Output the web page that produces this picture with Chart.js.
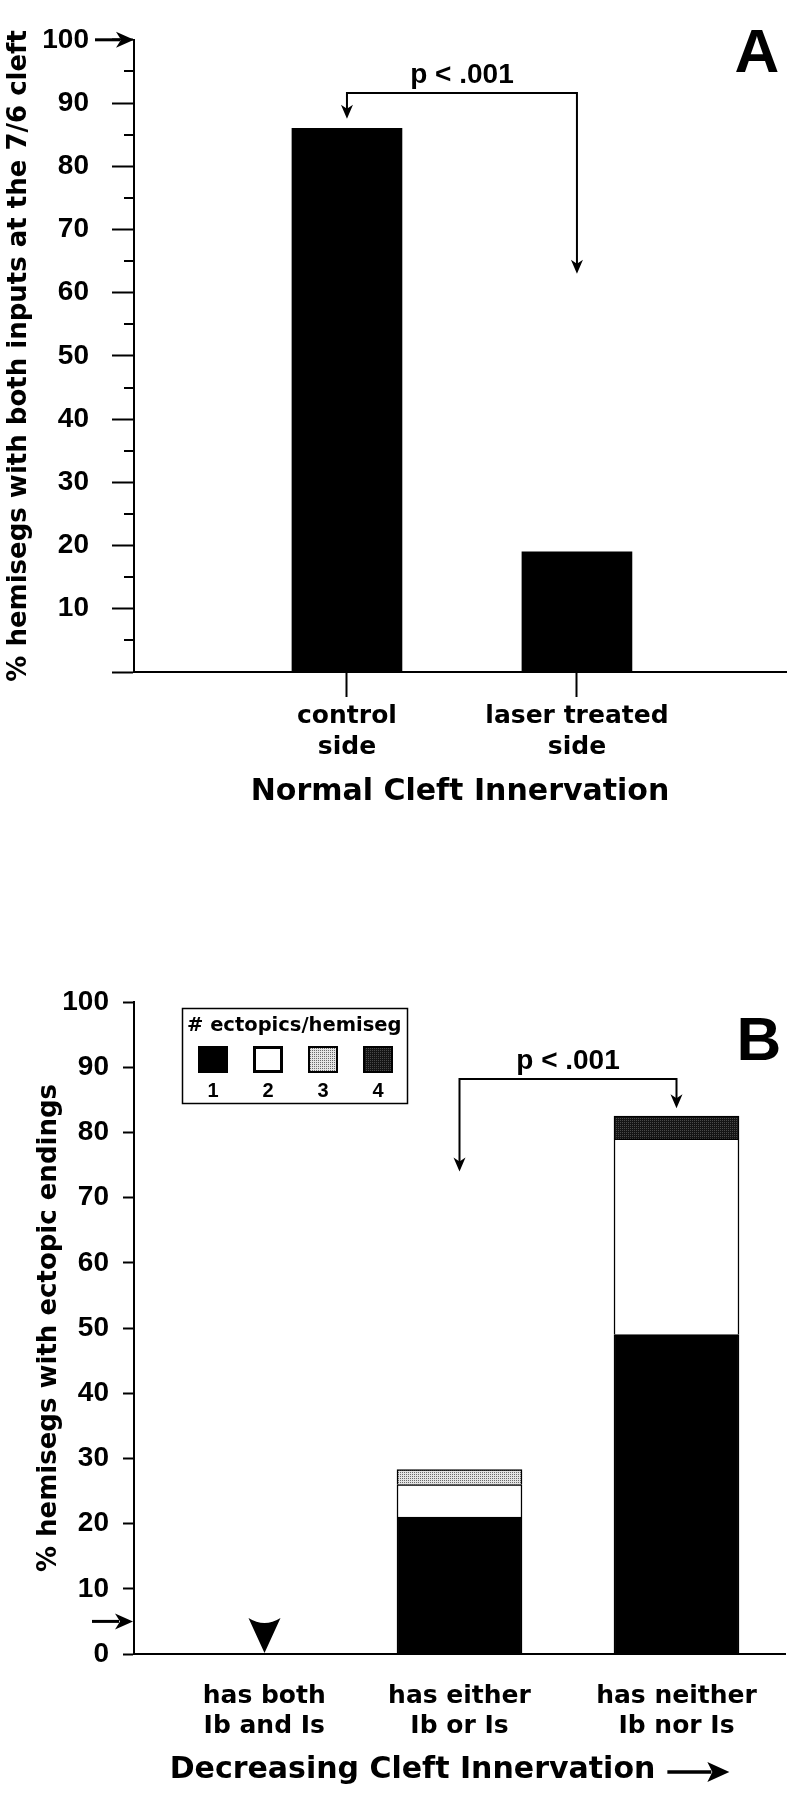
<!DOCTYPE html>
<html><head><meta charset="utf-8">
<script src="https://cdn.jsdelivr.net/npm/chart.js@4.4.0/dist/chart.umd.min.js"></script>
<style>
html,body{margin:0;padding:0;background:#fff;}
#wrap{position:relative;width:794px;height:1800px;background:#fff;}
canvas{position:absolute;left:0;}
#cA{top:0;} #cB{top:880px;}
</style></head><body>
<div id="wrap"><canvas id="cA" width="794" height="830"></canvas><canvas id="cB" width="794" height="920"></canvas></div>
<script>
// ---------- DATA ----------
const categoriesA = [["control", "side"], ["laser treated", "side"]];
const valuesA = [86, 19];
const titleA_y = "% hemisegs with both inputs at the 7/6 cleft";
const titleA_x = "Normal Cleft Innervation";

const categoriesB = [["has both", "Ib and Is"], ["has either", "Ib or Is"], ["has neither", "Ib nor Is"]];
const ectopicCounts = ["1", "2", "3", "4"];
const ectopics1 = [0, 21, 49];
const ectopics2 = [0, 5, 30];
const ectopics3 = [0, 2.3, 0];
const ectopics4 = [0, 0, 3.5];
const legendTitleB = "# ectopics/hemiseg";
const titleB_y = "% hemisegs with ectopic endings";
const titleB_x = "Decreasing Cleft Innervation";
const pText = "p < .001";

// ---------- STYLE HELPERS ----------
const TXT = "'DejaVu Sans', sans-serif";
const NUM = "'Liberation Sans', Arial, sans-serif";
Chart.defaults.color = '#000';

function stipple(bg, dot) {
  const c = document.createElement('canvas'); c.width = 4; c.height = 4;
  const g = c.getContext('2d');
  g.fillStyle = bg; g.fillRect(0, 0, 4, 4);
  g.fillStyle = dot;
  g.fillRect(0, 0, 1, 1); g.fillRect(2, 2, 1, 1); g.fillRect(2, 0, 1, 1); g.fillRect(0, 2, 1, 1);
  return c.getContext('2d').createPattern(c, 'repeat');
}
const fillsB = ['#000000', '#ffffff', stipple('#e4e4e4', '#6a6a6a'), stipple('#151515', '#4a4a4a')];

function arrowRight(ctx, x1, x2, y, lw, hl, hw) {
  lw = lw || 3; hl = hl || 18; hw = hw || 8;
  ctx.save(); ctx.strokeStyle = '#000'; ctx.fillStyle = '#000'; ctx.lineWidth = lw;
  ctx.beginPath(); ctx.moveTo(x1, y); ctx.lineTo(x2 - hl + 4, y); ctx.stroke();
  ctx.beginPath(); ctx.moveTo(x2, y); ctx.lineTo(x2 - hl, y - hw); ctx.lineTo(x2 - hl + 5, y); ctx.lineTo(x2 - hl, y + hw); ctx.closePath(); ctx.fill();
  ctx.restore();
}
function arrowHeadDown(ctx, x, tip) {
  ctx.beginPath(); ctx.moveTo(x, tip); ctx.lineTo(x - 6, tip - 14); ctx.lineTo(x, tip - 10); ctx.lineTo(x + 6, tip - 14); ctx.closePath(); ctx.fill();
}
function bracket(chart, cfg) {
  const {ctx} = chart; const xs = chart.scales.x, ys = chart.scales.y;
  const xa = xs.getPixelForValue(cfg.from), xb = xs.getPixelForValue(cfg.to);
  const yl = ys.getPixelForValue(cfg.level);
  const ta = ys.getPixelForValue(cfg.tips[0]), tb = ys.getPixelForValue(cfg.tips[1]);
  ctx.save(); ctx.strokeStyle = '#000'; ctx.fillStyle = '#000'; ctx.lineWidth = 2;
  ctx.beginPath(); ctx.moveTo(xa, ta - 8); ctx.lineTo(xa, yl); ctx.lineTo(xb, yl); ctx.lineTo(xb, tb - 8); ctx.stroke();
  arrowHeadDown(ctx, xa, ta); arrowHeadDown(ctx, xb, tb);
  ctx.font = "bold 28px " + NUM; ctx.textAlign = 'center'; ctx.textBaseline = 'alphabetic';
  ctx.fillText(pText, (xa + xb) / 2, yl - 10);
  ctx.restore();
}

// ---------- CHART A ----------
const annotA = {
  id: 'annotA',
  afterDraw(chart) {
    const {ctx} = chart; const ys = chart.scales.y; const left = chart.chartArea.left;
    ctx.save(); ctx.strokeStyle = '#000'; ctx.lineWidth = 2;
    for (let v = 5; v < 100; v += 10) {
      const y = Math.round(ys.getPixelForValue(v));
      ctx.beginPath(); ctx.moveTo(left - 10, y); ctx.lineTo(left, y); ctx.stroke();
    }
    ctx.restore();
    arrowRight(ctx, 95, left, ys.getPixelForValue(100));
    bracket(chart, {from: 0, to: 1, level: 91.6, tips: [87.5, 63]});
    ctx.save(); ctx.fillStyle = '#000'; ctx.font = "bold 62px " + NUM; ctx.textAlign = 'center';
    ctx.fillText('A', 757, 72); ctx.restore();
  }
};

new Chart(document.getElementById('cA'), {
  type: 'bar',
  data: {
    datasets: [{
      label: titleA_y,
      data: valuesA.map((v, i) => ({x: i, y: v})),
      backgroundColor: '#000', borderWidth: 0, barThickness: 110
    }]
  },
  options: {
    responsive: false, animation: false, devicePixelRatio: 1,
    layout: {padding: {top: 17, right: 8, left: 0, bottom: 0}},
    plugins: {legend: {display: false}, tooltip: {enabled: false}},
    scales: {
      x: {
        type: 'linear', min: -0.926, max: 1.909, bounds: 'data', offset: false,
        afterBuildTicks: (s) => { s.ticks = categoriesA.map((c, i) => ({value: i})); },
        ticks: {callback: (v) => categoriesA[v], autoSkip: false, maxRotation: 0,
          font: {family: TXT, weight: 'bold', size: 25, lineHeight: 1.24}, color: '#000', padding: 4},
        grid: {offset: false, drawOnChartArea: false, drawTicks: true, tickLength: 25, tickColor: '#000', tickWidth: 2},
        border: {display: true, color: '#000', width: 2},
        title: {display: true, text: titleA_x, color: '#000',
          font: {family: TXT, weight: 'bold', size: 30, lineHeight: 1.2}, padding: {top: 0, bottom: 20}},
        afterFit: (s) => { s.height = 158; }
      },
      y: {
        min: 0, max: 100,
        ticks: {stepSize: 10, callback: (v) => v === 0 ? '' : v,
          font: {family: NUM, weight: 'bold', size: 28}, color: '#000', padding: 23},
        grid: {drawOnChartArea: false, tickLength: 22, tickColor: '#000', tickWidth: 2},
        border: {display: true, color: '#000', width: 2},
        title: {display: true, text: titleA_y, color: '#000',
          font: {family: TXT, weight: 'bold', size: 26, lineHeight: 1.2}, padding: {top: 4, bottom: 0}},
        afterFit: (s) => { s.width = 134; }
      }
    }
  },
  plugins: [annotA]
});

// ---------- CHART B ----------
const NB = '\u00A0';
const ARROW_ROOM = NB.repeat(9);
const EMPTY_PAD = NB.repeat(5);   // the empty category's label sits a little right of centre
const EMPTY_SHIFT = 22;
const annotB = {
  id: 'annotB',
  afterDraw(chart) {
    const {ctx} = chart; const xs = chart.scales.x, ys = chart.scales.y; const left = chart.chartArea.left;
    // y-axis arrow
    arrowRight(ctx, 92, left - 1, ys.getPixelForValue(5));
    // arrowhead over empty category
    const cx = xs.getPixelForValue(0) + EMPTY_SHIFT, by = ys.getPixelForValue(0);
    ctx.save(); ctx.fillStyle = '#000';
    ctx.beginPath(); ctx.moveTo(cx - 16, by - 36); ctx.quadraticCurveTo(cx, by - 26, cx + 16, by - 36);
    ctx.lineTo(cx, by - 1); ctx.closePath(); ctx.fill(); ctx.restore();
    bracket(chart, {from: 1, to: 2, level: 88.2, tips: [74, 83.7]});
    // arrow after x-axis title
    ctx.save();
    ctx.font = "bold 30px " + TXT;
    const full = ctx.measureText(titleB_x + ARROW_ROOM).width;
    const txt = ctx.measureText(titleB_x).width;
    const mid = (xs.left + xs.right) / 2;
    const x0 = mid - full / 2 + txt + 12;
    const ty = xs.bottom - 12 - 18 + 2;
    ctx.restore();
    arrowRight(ctx, x0, x0 + 62, ty, 3.5, 22, 10);
    // legend box
    ctx.save();
    ctx.strokeStyle = '#000'; ctx.lineWidth = 1.5;
    ctx.strokeRect(182.5, 128.5, 225, 95);
    ctx.fillStyle = '#000'; ctx.font = "bold 19.5px " + TXT; ctx.textAlign = 'left'; ctx.textBaseline = 'alphabetic';
    ctx.fillText(legendTitleB, 187, 151);
    const ds = chart.data.datasets;
    ds.forEach((d, k) => {
      const sx = 198 + k * 55, sy = 166;
      ctx.fillStyle = d.backgroundColor; ctx.fillRect(sx, sy, 30, 27);
      ctx.strokeStyle = '#000'; ctx.lineWidth = k === 1 ? 3 : 2;
      ctx.strokeRect(sx + ctx.lineWidth / 2, sy + ctx.lineWidth / 2, 30 - ctx.lineWidth, 27 - ctx.lineWidth);
      ctx.fillStyle = '#000'; ctx.font = "bold 20px " + NUM; ctx.textAlign = 'center';
      ctx.fillText(d.label, sx + 15, 217);
    });
    ctx.font = "bold 62px " + NUM; ctx.textAlign = 'center';
    ctx.fillText('B', 759, 180);
    ctx.restore();
  }
};

const seriesB = [ectopics1, ectopics2, ectopics3, ectopics4];
new Chart(document.getElementById('cB'), {
  type: 'bar',
  data: {
    labels: categoriesB,
    datasets: ectopicCounts.map((lab, k) => ({
      label: lab, data: seriesB[k], backgroundColor: fillsB[k],
      borderColor: '#000', borderWidth: 1.5, barThickness: 125
    }))
  },
  options: {
    responsive: false, animation: false, devicePixelRatio: 1,
    layout: {padding: {top: 122, right: 9, left: 0, bottom: 0}},
    plugins: {legend: {display: false}, tooltip: {enabled: false}},
    scales: {
      x: {
        stacked: true,
        ticks: {callback: (v, i) => i === 0 ? categoriesB[i].map(s => EMPTY_PAD + s) : categoriesB[i],
          font: {family: TXT, weight: 'bold', size: 25, lineHeight: 1.2}, color: '#000', padding: 19, maxRotation: 0, autoSkip: false},
        grid: {display: false},
        border: {display: true, color: '#000', width: 2},
        title: {display: true, text: titleB_x + ARROW_ROOM, color: '#000',
          font: {family: TXT, weight: 'bold', size: 30, lineHeight: 1.2}, padding: {top: 0, bottom: 12}},
        afterFit: (s) => { s.height = 146; }
      },
      y: {
        stacked: true, min: 0, max: 100,
        ticks: {stepSize: 10, font: {family: NUM, weight: 'bold', size: 28}, color: '#000', padding: 14},
        grid: {drawOnChartArea: false, tickLength: 11, tickColor: '#000', tickWidth: 2},
        border: {display: true, color: '#000', width: 2},
        title: {display: true, text: titleB_y, color: '#000',
          font: {family: TXT, weight: 'bold', size: 26, lineHeight: 1.2}, padding: {top: 34, bottom: 0}},
        afterFit: (s) => { s.width = 134; }
      }
    }
  },
  plugins: [annotB]
});
</script>
</body></html>
